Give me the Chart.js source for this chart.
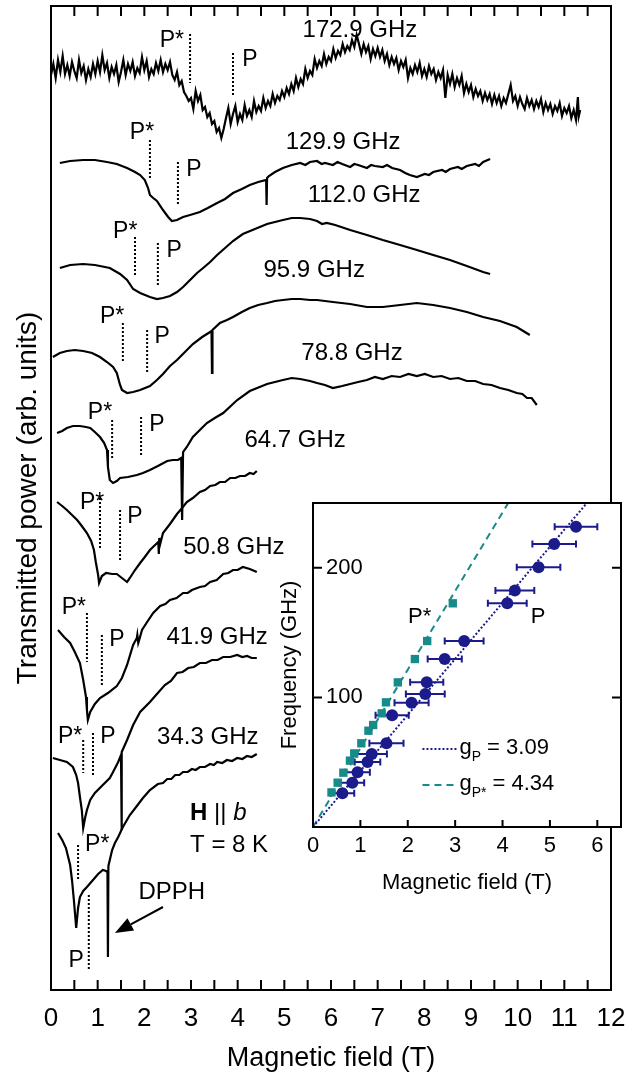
<!DOCTYPE html>
<html>
<head>
<meta charset="utf-8">
<script src="https://cdn.jsdelivr.net/npm/chart.js@4.4.0/dist/chart.umd.min.js"></script>
<style>
  html, body { margin: 0; padding: 0; background: #fff; }
  #wrap { position: relative; width: 642px; height: 1075px; }
  #main { position: absolute; left: 0; top: 0; }
  #inset { position: absolute; left: 270px; top: 495px; }
</style>
</head>
<body>
<div id="wrap">
  <canvas id="main" width="642" height="1075"></canvas>
  <canvas id="inset" width="360" height="410"></canvas>
</div>
<script>
// spectra: [field (T), transmitted power (arb. units)]
const t1729 = [[0.00,915],[0.05,926],[0.10,912],[0.15,930],[0.20,918],[0.25,934],[0.30,916],[0.35,925],[0.40,914],[0.45,928],[0.50,919],[0.55,912],[0.60,930],[0.65,917],[0.70,924],[0.75,910],[0.80,921],[0.85,913],[0.90,926],[0.95,916],
  [1.00,929],[1.05,918],[1.10,935],[1.15,920],[1.20,927],[1.25,912],[1.30,923],[1.35,916],[1.40,925],[1.45,908],[1.50,918],[1.55,930],[1.60,915],[1.65,926],[1.70,919],[1.75,928],[1.80,914],[1.85,922],[1.90,917],[1.95,933],
  [2.00,920],[2.05,929],[2.10,913],[2.15,921],[2.20,916],[2.25,927],[2.30,919],[2.35,930],[2.40,918],[2.45,926],[2.50,920],[2.55,928],[2.60,915],[2.65,910],[2.70,918],[2.75,905],[2.80,909],[2.85,898],[2.90,894],[2.95,889],
  [3.00,892],[3.05,881],[3.10,899],[3.15,889],[3.20,895],[3.25,880],[3.30,883],[3.35,873],[3.40,877],[3.45,866],[3.50,869],[3.55,858],[3.60,862],[3.65,852],[3.70,861],[3.75,872],[3.80,882],[3.85,866],[3.90,876],[3.95,884],
  [4.00,868],[4.05,876],[4.10,870],[4.15,885],[4.20,874],[4.25,880],[4.30,873],[4.35,889],[4.40,878],[4.45,884],[4.50,879],[4.55,892],[4.60,882],[4.65,889],[4.70,884],[4.75,896],[4.80,887],[4.85,894],[4.90,890],[4.95,899],
  [5.00,893],[5.05,902],[5.10,896],[5.15,906],[5.20,899],[5.25,912],[5.30,903],[5.35,911],[5.40,906],[5.45,921],[5.50,912],[5.55,919],[5.60,915],[5.65,931],[5.70,922],[5.75,929],[5.80,924],[5.85,936],[5.90,926],[5.95,933],
  [6.00,929],[6.05,941],[6.10,932],[6.15,939],[6.20,935],[6.25,946],[6.30,938],[6.35,944],[6.40,940],[6.45,950],[6.50,943],[6.55,955],[6.60,946],[6.65,936],[6.70,946],[6.75,938],[6.80,944],[6.85,931],[6.90,941],[6.95,934],
  [7.00,942],[7.05,933],[7.10,940],[7.15,929],[7.20,936],[7.25,925],[7.30,933],[7.35,926],[7.40,932],[7.45,920],[7.50,929],[7.55,923],[7.60,930],[7.65,912],[7.70,922],[7.75,916],[7.80,925],[7.85,918],[7.90,927],[7.95,914],
  [8.00,921],[8.05,913],[8.10,924],[8.15,916],[8.20,921],[8.25,910],[8.30,918],[8.35,912],[8.40,920],[8.45,892],[8.50,915],[8.55,906],[8.60,916],[8.65,903],[8.70,912],[8.75,905],[8.80,914],[8.85,897],[8.90,906],[8.95,898],
  [9.00,905],[9.05,893],[9.10,901],[9.15,894],[9.20,899],[9.25,889],[9.30,897],[9.35,890],[9.40,896],[9.45,886],[9.50,895],[9.55,887],[9.60,894],[9.65,884],[9.70,892],[9.75,887],[9.80,896],[9.85,905],[9.90,889],[9.95,894],
  [10.00,884],[10.05,893],[10.10,886],[10.15,881],[10.20,892],[10.25,884],[10.30,890],[10.35,881],[10.40,889],[10.45,883],[10.50,891],[10.55,878],[10.60,887],[10.65,880],[10.70,886],[10.75,876],[10.80,884],[10.85,879],[10.90,887],[10.95,874],
  [11.00,882],[11.05,877],[11.10,884],[11.15,872],[11.20,880],[11.25,870],[11.29,893],[11.31,874],[11.34,880]];
const t1299 = [[0.19,827],[0.41,829],[0.69,830],[0.94,830],[1.20,828],[1.41,826],[1.63,822],[1.80,818],[1.91,815],[2.01,810],[2.08,802],[2.12,795],[2.19,792],[2.27,789],[2.40,780],[2.51,773],[2.59,769],[2.70,770],[2.83,773],[2.98,775],[3.19,778],[3.36,782],[3.56,787],[3.73,791],[3.90,797],[4.09,801],[4.26,805],[4.44,808],[4.61,810],[4.62,785],[4.63,812],[4.67,814],[4.80,818],[4.97,822],[5.16,825],[5.34,827],[5.45,825],[5.55,828],[5.70,829],[5.80,826],[5.87,827],[6.04,825],[6.14,828],[6.24,826],[6.41,823],[6.50,826],[6.58,825],[6.77,822],[6.86,825],[6.94,824],[7.11,823],[7.20,825],[7.31,822],[7.48,820],[7.59,817],[7.69,815],[7.84,813],[8.01,816],[8.10,815],[8.19,818],[8.38,820],[8.46,818],[8.55,821],[8.72,823],[8.80,821],[8.91,824],[9.09,826],[9.17,824],[9.26,828],[9.41,831]];
const t1120 = [[0.19,722],[0.41,725],[0.69,726],[0.94,725],[1.26,722],[1.48,716],[1.63,710],[1.76,701],[1.91,697],[2.12,693],[2.27,691],[2.40,692],[2.55,694],[2.70,698],[2.83,703],[2.98,710],[3.13,717],[3.26,722],[3.41,728],[3.56,735],[3.73,742],[3.90,749],[4.11,756],[4.37,761],[4.63,766],[4.80,768],[4.97,770],[5.16,772],[5.34,772],[5.55,771],[5.70,769],[5.81,766],[5.91,767],[6.09,765],[6.41,760],[6.77,755],[7.11,750],[7.48,745],[7.84,740],[8.19,735],[8.55,730],[8.91,724],[9.26,718],[9.41,716]];
const t959 = [[0.04,633],[0.19,637],[0.34,639],[0.51,640],[0.69,639],[0.88,637],[1.05,633],[1.20,628],[1.33,623],[1.41,617],[1.48,605],[1.52,600],[1.63,597],[1.76,598],[1.91,600],[2.12,604],[2.27,610],[2.40,616],[2.55,624],[2.70,630],[2.87,638],[3.04,646],[3.24,653],[3.41,658],[3.44,659],[3.45,617],[3.46,660],[3.62,667],[3.77,670],[3.90,673],[4.09,678],[4.26,682],[4.44,685],[4.63,687],[4.80,689],[4.97,690],[5.16,691],[5.34,691],[5.55,690],[5.70,690],[6.04,688],[6.41,686],[6.77,683],[7.11,683],[7.48,685],[7.84,687],[8.19,685],[8.55,682],[8.91,678],[9.26,673],[9.62,669],[9.98,663],[10.26,655]];
const t788 = [[0.13,557],[0.24,559],[0.34,562],[0.47,564],[0.62,564],[0.75,563],[0.84,562],[0.94,558],[1.05,553],[1.14,547],[1.20,540],[1.22,523],[1.26,510],[1.33,507],[1.41,509],[1.48,512],[1.65,513],[1.84,515],[1.97,517],[2.12,520],[2.29,524],[2.49,529],[2.61,530],[2.72,530],[2.79,532],[2.81,470],[2.83,538],[2.91,543],[3.04,553],[3.19,560],[3.34,567],[3.51,572],[3.69,577],[3.99,590],[4.26,599],[4.63,606],[4.97,610],[5.16,612],[5.34,611],[5.55,609],[5.70,607],[5.87,605],[6.04,602],[6.24,604],[6.41,606],[6.58,608],[6.77,610],[6.94,613],[7.11,611],[7.30,614],[7.48,613],[7.66,616],[7.84,614],[8.01,616],[8.19,613],[8.37,614],[8.55,611],[8.73,612],[8.91,609],[9.09,609],[9.26,606],[9.44,605],[9.62,602],[9.80,600],[9.98,597],[10.10,596],[10.20,592],[10.30,592],[10.41,585]];
const t647 = [[0.13,488],[0.24,484],[0.34,480],[0.45,475],[0.56,470],[0.66,464],[0.77,457],[0.86,449],[0.92,440],[0.96,428],[1.01,415],[1.03,407],[1.09,414],[1.18,417],[1.31,416],[1.41,416],[1.52,412],[1.63,408],[1.69,412],[1.80,420],[1.91,427],[2.01,433],[2.12,440],[2.23,445],[2.30,448],[2.31,436],[2.32,452],[2.34,446],[2.40,457],[2.55,466],[2.70,476],[2.81,482],[2.91,488],[3.04,492],[3.19,498],[3.30,500],[3.41,504],[3.52,505],[3.62,508],[3.73,508],[3.84,512],[3.95,512],[4.05,514],[4.16,514],[4.26,517],[4.34,516],[4.41,519]];
const t508 = [[0.15,360],[0.28,353],[0.41,347],[0.51,338],[0.62,327],[0.69,310],[0.75,293],[0.77,280],[0.79,270],[0.84,278],[0.94,286],[1.05,292],[1.22,297],[1.41,304],[1.52,312],[1.63,325],[1.76,345],[1.84,352],[1.85,355],[1.87,347],[1.89,350],[1.95,360],[2.06,368],[2.19,377],[2.34,384],[2.45,386],[2.55,390],[2.69,392],[2.83,397],[2.93,397],[3.02,400],[3.19,403],[3.30,404],[3.41,408],[3.55,410],[3.69,416],[3.80,417],[3.90,420],[4.00,420],[4.11,423],[4.26,421],[4.41,418]];
const t419 = [[0.04,232],[0.19,230],[0.34,228],[0.47,223],[0.54,215],[0.58,207],[0.62,193],[0.66,180],[0.69,162],[0.73,172],[0.77,180],[0.84,190],[0.94,197],[1.11,205],[1.26,212],[1.33,218],[1.44,228],[1.50,235],[1.51,160],[1.52,238],[1.63,250],[1.76,265],[1.91,278],[2.12,288],[2.27,296],[2.44,305],[2.57,309],[2.70,317],[2.82,318],[2.94,322],[3.06,323],[3.19,327],[3.32,327],[3.45,330],[3.57,330],[3.69,333],[3.84,333],[3.99,335],[4.10,333],[4.20,334],[4.30,332],[4.41,332]];
const t343 = [[0.15,157],[0.24,150],[0.32,142],[0.41,125],[0.45,110],[0.49,90],[0.54,62],[0.58,82],[0.62,93],[0.69,99],[0.77,103],[0.90,110],[1.01,116],[1.11,120],[1.18,119],[1.21,118],[1.22,33],[1.23,124],[1.26,130],[1.31,140],[1.37,147],[1.44,153],[1.54,163],[1.69,175],[1.84,184],[1.97,192],[2.12,200],[2.29,206],[2.40,207],[2.49,211],[2.58,211],[2.66,215],[2.75,215],[2.83,218],[2.93,218],[3.02,221],[3.10,220],[3.19,223],[3.30,223],[3.41,226],[3.49,225],[3.56,228],[3.67,227],[3.77,230],[3.88,229],[3.99,232],[4.10,231],[4.20,234],[4.30,233],[4.41,236]];

const freqLabels = ['172.9 GHz', '129.9 GHz', '112.0 GHz', '95.9 GHz', '78.8 GHz', '64.7 GHz', '50.8 GHz', '41.9 GHz', '34.3 GHz'];
// resonance fields marked in each spectrum (T)
const pStarField = [2.98, 2.12, 1.80, 1.54, 1.31, 1.05, 0.77, 0.69, 0.58];
const pField = [3.90, 2.72, 2.29, 2.06, 1.93, 1.48, 1.09, 0.90, 0.81];
const xTickLabels = ['0','1','2','3','4','5','6','7','8','9','10','11','12'];

// inset: frequency vs field
const insetPField = [5.55, 5.09, 4.76, 4.26, 4.10, 3.19, 2.78, 2.40, 2.37, 2.08, 1.67, 1.55, 1.24, 1.15, 0.94, 0.83, 0.62];
const insetPFreq = [231.7, 218.4, 200.4, 182.4, 172.6, 143.5, 129.6, 111.6, 102.6, 95.9, 86.2, 64.6, 56.3, 50.2, 42.2, 34.2, 26.0];
const insetPErr = [0.45, 0.46, 0.46, 0.41, 0.41, 0.41, 0.36, 0.35, 0.41, 0.36, 0.35, 0.36, 0.32, 0.27, 0.26, 0.25, 0.25];
const insetSField = [2.95, 2.41, 2.15, 1.79, 1.54, 1.45, 1.27, 1.17, 1.02, 0.87, 0.78, 0.64, 0.52, 0.39];
const insetSFreq = [172.6, 143.5, 129.6, 111.6, 96.2, 87.7, 78.7, 74.3, 64.6, 56.8, 51.2, 41.9, 34.2, 26.7];
const fitP = [[0, 0], [5.78, 250]];     // g = 3.09
const fitPStar = [[0, 0], [4.12, 250]]; // g = 4.34

// annotation placement (data coordinates)
const freqLabelAt = [[6.62,960],[6.26,848],[6.71,795],[5.64,720],[6.45,637],[5.23,550],[3.92,443],[3.56,353],[3.36,253]];
const pStarSpan = [[956,907],[850,810],[753,713],[667,628],[570,532],[492,440],[377,328],[250,217],[145,110]];
const pSpan = [[937,893],[828,785],[747,703],[660,617],[573,535],[480,428],[355,303],[257,213],[95,20]];
const pStarLabelAt = [[2.59,949],[1.95,857],[1.59,758],[1.31,673],[1.05,577],[0.88,487],[0.49,382],[0.41,253],[0.99,145]];
const pLabelAt = [[4.26,930],[3.06,820],[2.64,739],[2.38,653],[2.27,565],[1.80,473],[1.41,350],[1.22,253],[0.54,29]];

const FONT = '"Liberation Sans", Arial, Helvetica, sans-serif';
const NAVY = '#1b1b8c';
const TEAL = '#178a8a';
const pts = arr => arr.map(([x, y]) => ({ x, y }));

const traceSets = [t1729, t1299, t1120, t959, t788, t647, t508, t419, t343].map(t => ({
  data: pts(t), borderColor: '#000', borderWidth: 2.2, pointRadius: 0, tension: 0
}));
const dotted = (b, span) => ({
  data: [{ x: b, y: span[0] }, { x: b, y: span[1] }],
  borderColor: '#000', borderWidth: 2, borderDash: [2, 2], pointRadius: 0
});
const markerSets = [
  ...pStarField.map((b, i) => dotted(b, pStarSpan[i])),
  ...pField.map((b, i) => dotted(b, pSpan[i]))
];

const mainDeco = {
  id: 'mainDeco',
  afterDraw(c) {
    const { ctx, chartArea: a, scales: { x, y } } = c;
    const X = v => x.getPixelForValue(v), Y = v => y.getPixelForValue(v);
    ctx.save();
    ctx.strokeStyle = '#000';
    ctx.lineWidth = 2;
    for (let v = 0; v <= 12; v += 0.5) {
      const p = X(v);
      ctx.beginPath();
      ctx.moveTo(p, a.bottom); ctx.lineTo(p, a.bottom - 10);
      ctx.moveTo(p, a.top); ctx.lineTo(p, a.top + 10);
      ctx.stroke();
    }
    ctx.strokeRect(a.left, a.top, a.right - a.left, a.bottom - a.top);

    ctx.fillStyle = '#000';
    ctx.textAlign = 'center';
    ctx.textBaseline = 'middle';
    ctx.font = '24px ' + FONT;
    freqLabels.forEach((s, i) => ctx.fillText(s, X(freqLabelAt[i][0]), Y(freqLabelAt[i][1])));
    ctx.font = '23px ' + FONT;
    pStarLabelAt.forEach(([b, v]) => ctx.fillText('P*', X(b), Y(v)));
    pLabelAt.forEach(([b, v]) => ctx.fillText('P', X(b), Y(v)));

    // H || b, T = 8 K
    ctx.textAlign = 'left';
    let hx = X(2.98);
    const hy = Y(177);
    ctx.font = 'bold 24px ' + FONT;
    ctx.fillText('H', hx, hy);
    hx += ctx.measureText('H').width;
    ctx.font = '24px ' + FONT;
    ctx.fillText(' || ', hx, hy);
    hx += ctx.measureText(' || ').width;
    ctx.font = 'italic 24px ' + FONT;
    ctx.fillText('b', hx, hy);
    ctx.font = '24px ' + FONT;
    ctx.fillText('T = 8 K', X(2.98), Y(145));

    // DPPH arrow
    ctx.textAlign = 'center';
    ctx.fillText('DPPH', X(2.59), Y(98));
    const x0 = X(2.40), y0 = Y(83), x1 = X(1.37), y1 = Y(57);
    const len = Math.hypot(x1 - x0, y1 - y0), ux = (x1 - x0) / len, uy = (y1 - y0) / len;
    const bx = x1 - ux * 18, by = y1 - uy * 18;
    ctx.beginPath(); ctx.moveTo(x0, y0); ctx.lineTo(bx, by); ctx.stroke();
    ctx.beginPath();
    ctx.moveTo(x1, y1);
    ctx.lineTo(bx - uy * 7, by + ux * 7);
    ctx.lineTo(bx + uy * 7, by - ux * 7);
    ctx.closePath();
    ctx.fill();
    ctx.restore();
  }
};

new Chart(document.getElementById('main'), {
  type: 'line',
  data: { datasets: [...traceSets, ...markerSets] },
  options: {
    responsive: false,
    animation: false,
    events: [],
    layout: { padding: { top: 6, right: 31, left: 0, bottom: 0 } },
    plugins: { legend: { display: false }, tooltip: { enabled: false } },
    scales: {
      x: {
        type: 'linear', min: 0, max: 12,
        grid: { display: false, drawTicks: false },
        border: { display: false },
        ticks: { stepSize: 1, padding: 13, color: '#000', font: { family: FONT, size: 26 },
                 callback: (v) => xTickLabels[v] ?? '' },
        title: { display: true, text: 'Magnetic field (T)', color: '#000',
                 font: { family: FONT, size: 27 }, padding: { top: 0, bottom: 0 } },
        afterFit: s => { s.height = 85; }
      },
      y: {
        type: 'linear', min: 0, max: 984,
        grid: { display: false, drawTicks: false },
        border: { display: false },
        ticks: { display: false },
        title: { display: true, text: 'Transmitted power (arb. units)', color: '#000',
                 font: { family: FONT, size: 28 }, padding: { top: 11, bottom: 0 } },
        afterFit: s => { s.width = 51; }
      }
    }
  },
  plugins: [mainDeco]
});

// ---- inset ----
const insetDeco = {
  id: 'insetDeco',
  beforeDraw(c) {
    const { ctx, chartArea: a } = c;
    ctx.save();
    ctx.fillStyle = '#fff';
    ctx.fillRect(a.left, a.top, a.right - a.left, a.bottom - a.top);
    ctx.restore();
  },
  beforeDatasetsDraw(c) {
    const { ctx, scales: { x, y } } = c;
    ctx.save();
    ctx.strokeStyle = NAVY;
    ctx.lineWidth = 2;
    insetPField.forEach((b, i) => {
      const l = x.getPixelForValue(b - insetPErr[i]), r = x.getPixelForValue(b + insetPErr[i]);
      const py = y.getPixelForValue(insetPFreq[i]);
      ctx.beginPath();
      ctx.moveTo(l, py); ctx.lineTo(r, py);
      ctx.moveTo(l, py - 3.5); ctx.lineTo(l, py + 3.5);
      ctx.moveTo(r, py - 3.5); ctx.lineTo(r, py + 3.5);
      ctx.stroke();
    });
    ctx.restore();
  },
  afterDraw(c) {
    const { ctx, chartArea: a, scales: { x, y } } = c;
    const X = v => x.getPixelForValue(v), Y = v => y.getPixelForValue(v);
    ctx.save();
    ctx.strokeStyle = '#000';
    ctx.lineWidth = 2;
    x.ticks.forEach(t => {
      if (!Number.isInteger(t.value)) return;
      const p = X(t.value);
      ctx.beginPath(); ctx.moveTo(p, a.bottom); ctx.lineTo(p, a.bottom - 7); ctx.stroke();
    });
    ctx.fillStyle = '#000';
    ctx.font = '22px ' + FONT;
    ctx.textAlign = 'left';
    ctx.textBaseline = 'middle';
    y.ticks.forEach(t => {
      if (t.value <= 0 || t.value >= 250) return;
      const p = Y(t.value);
      ctx.beginPath();
      ctx.moveTo(a.left, p); ctx.lineTo(a.left + 9, p);
      ctx.moveTo(a.right, p); ctx.lineTo(a.right - 9, p);
      ctx.stroke();
      ctx.fillText(String(t.value), a.left + 13, p);
    });
    ctx.strokeRect(a.left, a.top, a.right - a.left, a.bottom - a.top);

    ctx.textAlign = 'center';
    ctx.fillText('P*', X(2.25), Y(162));
    ctx.fillText('P', X(4.75), Y(162));

    // legend
    const rows = [
      { color: NAVY, dash: [2, 2], sub: 'P', val: ' = 3.09', line: 60.2, text: 61 },
      { color: TEAL, dash: [7, 5], sub: 'P*', val: ' = 4.34', line: 32.4, text: 33 }
    ];
    rows.forEach(r => {
      ctx.strokeStyle = r.color;
      ctx.setLineDash(r.dash);
      ctx.beginPath();
      ctx.moveTo(X(2.31), Y(r.line)); ctx.lineTo(X(3.03), Y(r.line));
      ctx.stroke();
      ctx.setLineDash([]);
      ctx.textAlign = 'left';
      let tx = X(3.09);
      const ty = Y(r.text);
      ctx.font = '22px ' + FONT;
      ctx.fillText('g', tx, ty);
      tx += ctx.measureText('g').width;
      ctx.font = '14px ' + FONT;
      ctx.fillText(r.sub, tx, ty + 9);
      tx += ctx.measureText(r.sub).width;
      ctx.font = '22px ' + FONT;
      ctx.fillText(r.val, tx, ty);
    });
    ctx.restore();
  }
};

new Chart(document.getElementById('inset'), {
  type: 'scatter',
  data: {
    datasets: [
      { data: insetPField.map((b, i) => ({ x: b, y: insetPFreq[i] })), pointStyle: 'circle',
        pointRadius: 6, backgroundColor: NAVY, borderColor: NAVY, borderWidth: 0, order: 1 },
      { data: insetSField.map((b, i) => ({ x: b, y: insetSFreq[i] })), pointStyle: 'rect',
        pointRadius: 5.9, backgroundColor: TEAL, borderColor: TEAL, borderWidth: 0, order: 1 },
      { type: 'line', data: pts(fitP), borderColor: NAVY, borderWidth: 2, borderDash: [2, 2],
        pointRadius: 0, order: 2 },
      { type: 'line', data: pts(fitPStar), borderColor: TEAL, borderWidth: 2, borderDash: [7, 5],
        pointRadius: 0, order: 2 }
    ]
  },
  options: {
    responsive: false,
    animation: false,
    events: [],
    layout: { padding: { top: 8, right: 9, left: 0, bottom: 0 } },
    plugins: { legend: { display: false }, tooltip: { enabled: false } },
    scales: {
      x: {
        type: 'linear', min: 0, max: 6.5,
        grid: { display: false, drawTicks: false },
        border: { display: false },
        ticks: { stepSize: 1, includeBounds: false, padding: 6, color: '#000',
                 font: { family: FONT, size: 22 },
                 callback: v => Number.isInteger(v) ? String(v) : '' },
        title: { display: true, text: 'Magnetic field (T)', color: '#000',
                 font: { family: FONT, size: 22 }, padding: { top: 0, bottom: 9 } },
        afterFit: s => { s.height = 78; }
      },
      y: {
        type: 'linear', min: 0, max: 250,
        grid: { display: false, drawTicks: false },
        border: { display: false },
        ticks: { stepSize: 100, display: false },
        title: { display: true, text: 'Frequency (GHz)', color: '#000',
                 font: { family: FONT, size: 22 }, padding: { top: 7, bottom: 0 } },
        afterFit: s => { s.width = 43; }
      }
    }
  },
  plugins: [insetDeco]
});
</script>
</body>
</html>
